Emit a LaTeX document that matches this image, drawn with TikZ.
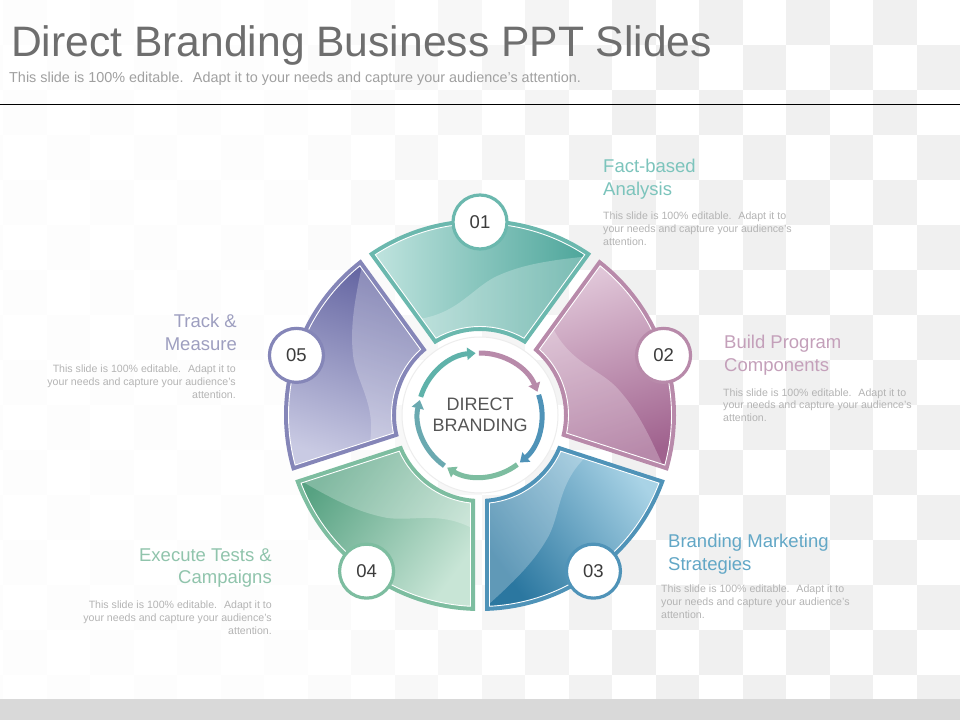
\documentclass[tikz,border=0pt]{standalone}
\usepackage{fontspec}
\setmainfont{Liberation Sans}
\usetikzlibrary{arrows.meta}
\definecolor{titlegray}{HTML}{6E6E6E}
\definecolor{subgray}{HTML}{A0A0A0}
\definecolor{descgray}{HTML}{B4B4B4}
\definecolor{bandgray}{HTML}{D9D9D9}
\definecolor{centergray}{HTML}{555555}
\definecolor{numgray}{HTML}{3C3C3C}
\definecolor{tealB}{HTML}{6BB8AE}\definecolor{tealL}{HTML}{BFE3DE}\definecolor{tealD}{HTML}{4EA69B}\definecolor{tealH}{HTML}{7CC4BC}
\definecolor{mauveB}{HTML}{B88AAA}\definecolor{mauveL}{HTML}{E0C6D8}\definecolor{mauveD}{HTML}{A0628E}\definecolor{mauveH}{HTML}{C4A0BA}
\definecolor{blueB}{HTML}{4F93B8}\definecolor{blueL}{HTML}{A9D3E6}\definecolor{blueD}{HTML}{2B77A0}\definecolor{blueH}{HTML}{62A7C6}
\definecolor{greenB}{HTML}{7DBDA0}\definecolor{greenL}{HTML}{C8E5D6}\definecolor{greenD}{HTML}{57A282}\definecolor{greenH}{HTML}{90C4AC}
\definecolor{lavB}{HTML}{8586B8}\definecolor{lavL}{HTML}{C9CAE3}\definecolor{lavD}{HTML}{6667A3}\definecolor{lavH}{HTML}{9E9FC0}
\definecolor{ringleft}{HTML}{6AA9B0}
\definecolor{ringteal}{HTML}{5FB2AA}

\newcommand\seg[4]{%
  \pgfmathsetmacro\ao{36-asin(5/196)}%
  \pgfmathsetmacro\ai{36-asin(5/84)}%
  \pgfmathsetmacro\bo{36-asin(9.5/191.5)}%
  \pgfmathsetmacro\bi{36-asin(9.5/88.5)}%
  \pgfmathsetmacro\sa{#1-\ao}\pgfmathsetmacro\sb{#1+\ao}%
  \pgfmathsetmacro\sc{#1+\ai}\pgfmathsetmacro\sd{#1-\ai}%
  \pgfmathsetmacro\ta{#1-\bo}\pgfmathsetmacro\tb{#1+\bo}%
  \pgfmathsetmacro\tc{#1+\bi}\pgfmathsetmacro\td{#1-\bi}%
  \fill[#2] (\sa:196) arc[start angle=\sa, end angle=\sb, radius=196] -- (\sc:84) arc[start angle=\sc, end angle=\sd, radius=84] -- cycle;
  \shade[left color=#3, right color=#4, shading angle=#1] (\ta:191.5) arc[start angle=\ta, end angle=\tb, radius=191.5] -- (\tc:88.5) arc[start angle=\tc, end angle=\td, radius=88.5] -- cycle;
  \begin{scope}
    \clip (\ta:191.5) arc[start angle=\ta, end angle=\tb, radius=191.5] -- (\tc:88.5) arc[start angle=\tc, end angle=\td, radius=88.5] -- cycle;
    \fill[white, opacity=0.25, rotate=#1-90] (-220,0) -- (-220,95) -- (-70,95) .. controls (-25,98) and (-10,125) .. (15,138) .. controls (45,152) and (80,160) .. (220,165) -- (220,0) -- cycle;
  \end{scope}
  \draw[white, line width=0.9] (\ta:191.5) arc[start angle=\ta, end angle=\tb, radius=191.5] -- (\tc:88.5) arc[start angle=\tc, end angle=\td, radius=88.5] -- cycle;
}

\tikzset{
  heading/.style={inner sep=0pt, font=\fontsize{18.5}{22.5}\selectfont},
  desc/.style={inner sep=0pt, font=\fontsize{10.6}{12.8}\selectfont, text=descgray},
  badge/.style={circle, fill=white, line width=3.2pt, minimum size=54pt, inner sep=0pt, text=numgray, font=\fontsize{18.5}{20}\selectfont},
  ringarrow/.style={line width=5pt, -{Triangle[width=12pt,length=8.5pt]}}
}

\begin{document}
\begin{tikzpicture}[x=1pt,y=1pt]
\useasboundingbox (0,0) rectangle (960,720);
\fill[white] (0,0) rectangle (960,720);
% checker background
\foreach \k in {-1,...,21}{
  \pgfmathsetmacro\xx{3+43.5*\k}
  \pgfmathsetmacro\pc{max(0.6,min(6,0.6+5.4*(\xx-250)/380))}
  \foreach \j in {0,...,15}{
    \pgfmathtruncatemacro\pp{mod(\k+\j+2,2)}
    \ifnum\pp=0 \fill[black!\pc] (\xx,720-45*\j) rectangle ++(43.5,-45);\fi
  }
}
\fill[bandgray] (0,0) rectangle (960,21);

% title
\node[anchor=base west, inner sep=0pt, font=\fontsize{42.6}{50}\selectfont, text=titlegray] (title) at (11,663) {Direct Branding Business PPT Slides};
\node[anchor=base west, inner sep=0pt, font=\fontsize{14.4}{16}\selectfont, text=subgray] (subtitle) at (9,637) {This slide is 100\% editable.~ Adapt it to your needs and capture your audience's attention.};
\coordinate (l1) at (0,615.5);
\coordinate (l2) at (960,615.5);
\draw[line width=1.3pt] (l1) -- (l2);

% text blocks
\node[heading, anchor=north west, align=left, text=tealH] (h1) at (603,560.7) {Fact-based\\Analysis};
\node[desc, anchor=north west, align=left] (d1) at (603,508.3) {This slide is 100\% editable.~ Adapt it to\\your needs and capture your audience's\\attention.};
\node[heading, anchor=north west, align=left, text=mauveH] (h2) at (724,385) {Build Program\\Components};
\node[desc, anchor=north west, align=left] (d2) at (723,331.7) {This slide is 100\% editable.~ Adapt it to\\your needs and capture your audience's\\attention.};
\node[heading, anchor=north west, align=left, text=blueH] (h3) at (668,186) {Branding Marketing\\Strategies};
\node[desc, anchor=north west, align=left] (d3) at (661,135) {This slide is 100\% editable.~ Adapt it to\\your needs and capture your audience's\\attention.};
\node[heading, anchor=north east, align=right, text=greenH] (h4) at (272,171.7) {Execute Tests \&\\Campaigns};
\node[desc, anchor=north east, align=right] (d4) at (272,119.3) {This slide is 100\% editable.~ Adapt it to\\your needs and capture your audience's\\attention.};
\node[heading, anchor=north east, align=right, text=lavH] (h5) at (237,406) {Track \&\\Measure};
\node[desc, anchor=north east, align=right] (d5) at (236,355) {This slide is 100\% editable.~ Adapt it to\\your needs and capture your audience's\\attention.};

\begin{scope}[shift={(480,305)}]
  \seg{90}{tealB}{tealL}{tealD}
  \seg{18}{mauveB}{mauveL}{mauveD}
  \seg{-54}{blueB}{blueL}{blueD}
  \seg{-126}{greenB}{greenL}{greenD}
  \seg{162}{lavB}{lavL}{lavD}

  \node[circle, fill=white, draw=black!7, line width=1pt, minimum size=156pt, inner sep=0pt] (disc) at (0,0) {};
  \foreach \e/\c in {94/ringteal, 22/mauveB, -50/blueB, -122/greenB, 166/ringleft}{
    \pgfmathsetmacro\st{\e+69}
    \draw[ringarrow, \c] (\st:62) arc[start angle=\st, end angle=\e, radius=62];
  }
  \node[anchor=north, align=center, inner sep=0pt, text=centergray, font=\fontsize{18}{21}\selectfont] (ctext) at (0,17.7) {DIRECT\\BRANDING};

  \node[badge, draw=tealB] (n1) at (90:193) {01};
  \node[badge, draw=mauveB] (n2) at (18:193) {02};
  \node[badge, draw=blueB] (n3) at (-54:193) {03};
  \node[badge, draw=greenB] (n4) at (-126:193) {04};
  \node[badge, draw=lavB] (n5) at (162:193) {05};
\end{scope}
\end{tikzpicture}
\end{document}
